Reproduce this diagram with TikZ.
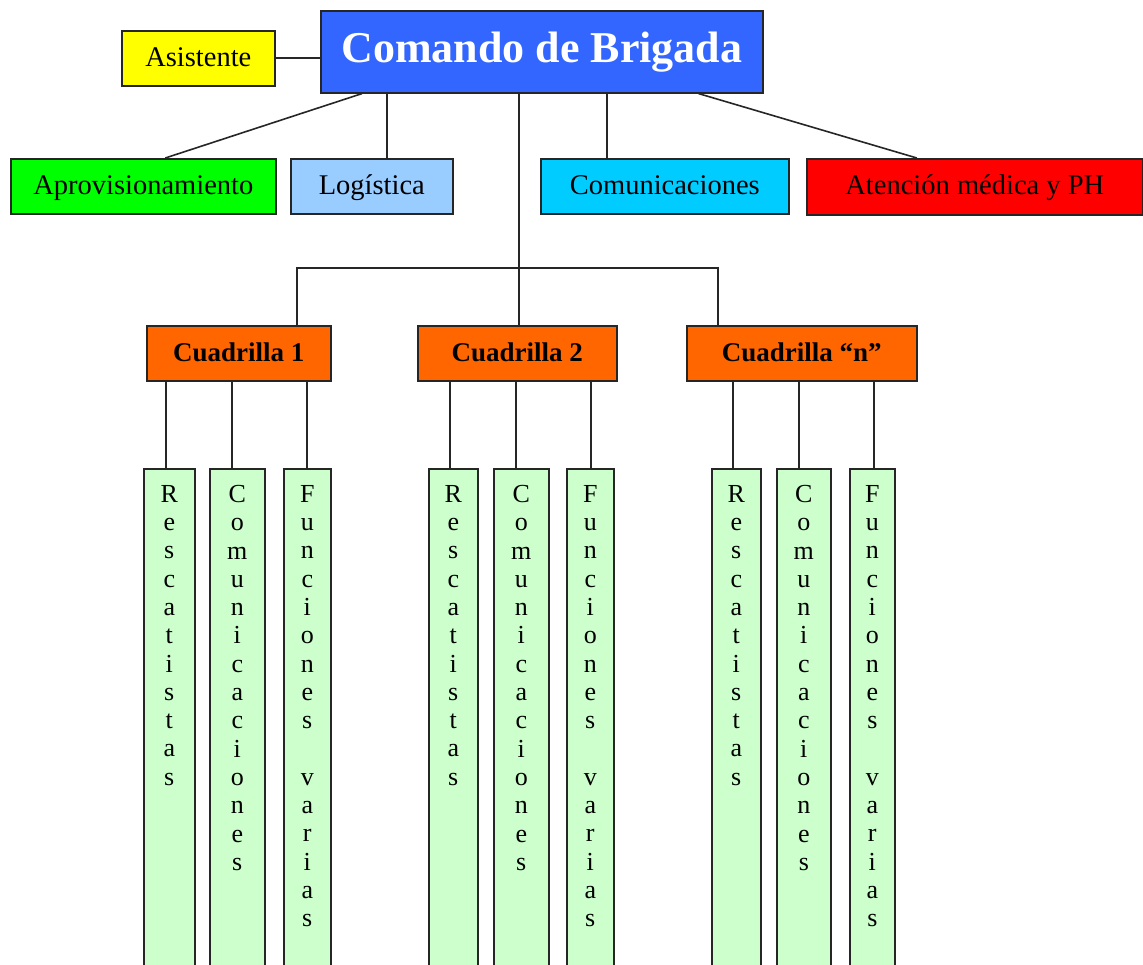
\documentclass[tikz,border=0pt]{standalone}
\usepackage{fontspec}
\setmainfont{Liberation Serif}
\usetikzlibrary{calc}
\definecolor{cblue}{HTML}{3366FF}
\definecolor{cyellow}{HTML}{FFFF00}
\definecolor{cgreen}{HTML}{00FF00}
\definecolor{clblue}{HTML}{99CCFF}
\definecolor{ccyan}{HTML}{00CCFF}
\definecolor{cred}{HTML}{FF0000}
\definecolor{corange}{HTML}{FF6600}
\definecolor{cpale}{HTML}{CCFFCC}
\definecolor{cline}{HTML}{262626}
\begin{document}
\begin{tikzpicture}[x=1pt,y=-1pt,
  box/.style={draw=cline, line width=1.6pt, rectangle, inner sep=0pt, anchor=north west},
  lvl/.style={box, minimum height=55pt, text height=19pt, text depth=3pt, font=\fontsize{28.5}{30}\selectfont},
  cuad/.style={box, fill=corange, minimum height=55pt, text height=19pt, text depth=3pt,
               font=\bfseries\fontsize{27}{30}\selectfont},
  colbox/.style={box, fill=cpale, minimum height=530pt},
  vt/.style={anchor=north, align=center, inner sep=0pt, font=\fontsize{26}{28.3}\selectfont},
  conn/.style={draw=cline, line width=1.6pt}]
\useasboundingbox (0,0) rectangle (1143,965);

% top level
\node[box, fill=cblue, minimum width=442pt, minimum height=82pt, text=white,
      font=\bfseries\fontsize{44}{48}\selectfont] (com) at (320,10) {Comando de Brigada};
\node[lvl, fill=cyellow, minimum width=153pt] (asis) at (121,30) {Asistente};

% second level
\node[lvl, fill=cgreen, minimum width=265pt] (aprov) at (10,158) {Aprovisionamiento};
\node[lvl, fill=clblue, minimum width=162pt] (log) at (290,158) {Logística};
\node[lvl, fill=ccyan, minimum width=248pt] (comu) at (540,158) {Comunicaciones};
\node[lvl, fill=cred, minimum width=336pt, minimum height=56pt] (aten) at (806,158) {Atención médica y PH};

% cuadrillas
\node[cuad, minimum width=184pt] (c1) at (146,325) {Cuadrilla 1};
\node[cuad, minimum width=199pt] (c2) at (417,325) {Cuadrilla 2};
\node[cuad, minimum width=230pt] (cn) at (686,325) {Cuadrilla “n”};

% columns
\node[colbox, minimum width=51pt] (r1) at (143,468) {};
\node[colbox, minimum width=55pt] (m1) at (209,468) {};
\node[colbox, minimum width=47pt] (f1) at (283,468) {};
\node[colbox, minimum width=49pt] (r2) at (428,468) {};
\node[colbox, minimum width=55pt] (m2) at (493,468) {};
\node[colbox, minimum width=47pt] (f2) at (566,468) {};
\node[colbox, minimum width=49pt] (r3) at (711,468) {};
\node[colbox, minimum width=54pt] (m3) at (776,468) {};
\node[colbox, minimum width=45pt] (f3) at (849,468) {};

\foreach \c in {r1,r2,r3}{
  \node[vt] (\c t) at ($(\c.north)+(0,17)$) {R\\e\\s\\c\\a\\t\\i\\s\\t\\a\\s};
}
\foreach \c in {m1,m2,m3}{
  \node[vt] (\c t) at ($(\c.north)+(0,17)$) {C\\o\\m\\u\\n\\i\\c\\a\\c\\i\\o\\n\\e\\s};
}
\foreach \c in {f1,f2,f3}{
  \node[vt] (\c t) at ($(\c.north)+(0,17)$) {F\\u\\n\\c\\i\\o\\n\\e\\s\\[28.3pt]v\\a\\r\\i\\a\\s};
}

% connectors, top
\draw[conn] (asis.east) -- (asis.east -| com.west);
\draw[conn] ($(com.south west)+(42,0)$) -- ($(aprov.north)+(22,0)$);
\coordinate (lx) at ($(log.north)+(15,0)$);
\draw[conn] (lx) -- (lx |- com.south);
\coordinate (cx) at ($(comu.north)+(-58,0)$);
\draw[conn] (cx) -- (cx |- com.south);
\draw[conn] ($(com.south east)+(-65,0)$) -- ($(aten.north)+(-58,0)$);

% connectors to cuadrillas
\coordinate (bar) at (0,268);
\coordinate (k1) at ($(c1.north)+(58,0)$);
\coordinate (k2) at ($(c2.north)+(1.5,0)$);
\coordinate (kn) at ($(cn.north)+(-84,0)$);
\draw[conn] (k2) -- (k2 |- com.south);
\draw[conn] (k1) -- (k1 |- bar) -- (kn |- bar) -- (kn);

% connectors to columns
\foreach \c/\p/\o in {r1/c1/-3.5,m1/c1/-5.5,f1/c1/-0.5,r2/c2/-3.5,m2/c2/-5.5,f2/c2/0.5,r3/cn/-3.5,m3/cn/-5,f3/cn/1.5}{
  \coordinate (\c k) at ($(\c.north)+(\o,0)$);
  \draw[conn] (\c k) -- (\c k |- \p.south);
}
\end{tikzpicture}
\end{document}
